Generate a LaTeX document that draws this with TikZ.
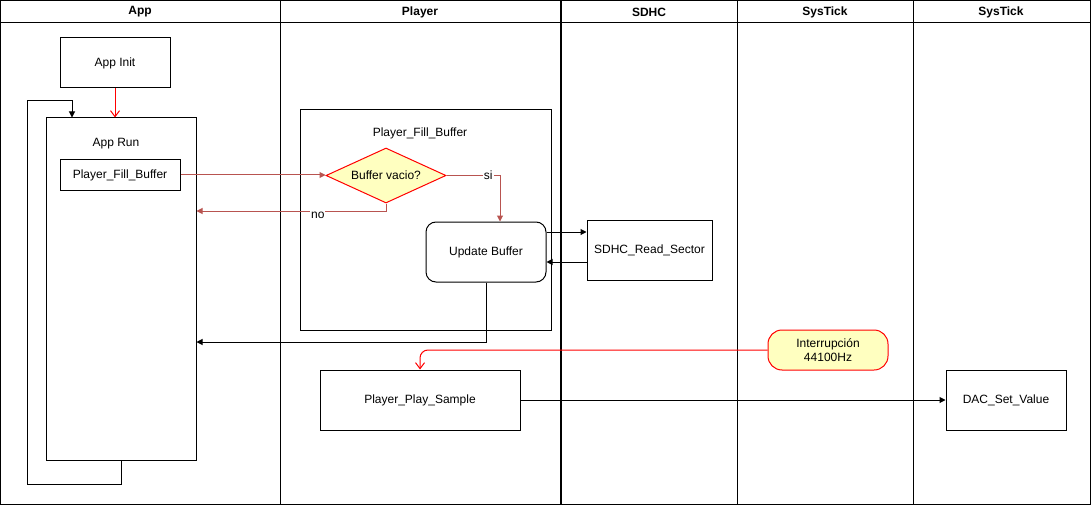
\documentclass[tikz,border=0pt]{standalone}
\usepackage{fontspec}
\setmainfont{Liberation Sans}
\usepackage{xcolor}
\usepackage{tikz}
\usetikzlibrary{positioning,shapes.geometric,arrows.meta}

\definecolor{arrowred}{RGB}{184,84,80}
\definecolor{notefill}{RGB}{255,255,192}

\begin{document}
\begin{tikzpicture}[x=1pt, y=-1pt, line width=1pt,
    font=\fontsize{12}{14}\selectfont,
    box/.style={draw, minimum width=120pt, minimum height=60pt, inner sep=0pt},
    lanehead/.style={font=\fontsize{12}{14}\selectfont\bfseries},
    decision/.style={diamond, draw=red, fill=notefill, aspect=2.2, inner sep=0pt,
        minimum width=120pt, minimum height=55pt},
    note/.style={draw=red, fill=notefill, rounded corners=14pt, align=center,
        minimum width=120pt, minimum height=40pt, inner sep=0pt},
    flow/.style={-{Triangle[length=6pt,width=6pt]}},
    redflow/.style={flow, draw=arrowred},
    hit/.style={-{Straight Barb[length=6pt,width=9pt]}, draw=red}]

        \useasboundingbox (0,0) rectangle (1091,505);

        % carriles
        \draw (0.5,0.5) rectangle (1090,504);
        \draw (0.5,23) -- (1090,23);
        \draw (280,0.5) -- (280,504);
        \draw[line width=2pt] (561,0.5) -- (561,504);
        \draw (737,0.5) -- (737,504);
        \draw (913,0.5) -- (913,504);
        \node[lanehead] (hApp) at (140,12) {App};
        \node[lanehead] (hPlayer) at (420,12) {Player};
        \node[lanehead] (hSDHC) at (649,12) {SDHC};
        \node[lanehead] (hTick1) at (825,12) {SysTick};
        \node[lanehead] (hTick2) at (1001,12) {SysTick};

        % App
        \node[box, minimum width=110pt, minimum height=50pt] (init) at (115,63) {App Init};
        \node[draw, minimum width=150pt, minimum height=342pt] (run) at (121,289) {};
        \node (runlbl) at (116,144) {App Run};
        \node[box, minimum height=30pt] (fill) at (120,175) {Player\_Fill\_Buffer};
        \coordinate (loopc) at (27,101);

        % Player
        \node[draw, minimum width=251pt, minimum height=220pt] (pfb) at (425.5,220) {};
        \node (pfblbl) at (420,133) {Player\_Fill\_Buffer};
        \node[decision] (vacio) at (386,175.5) {Buffer vacio?};
        \node[box, rounded corners=10pt] (upd) at (486,252) {Update Buffer};
        \node[box, minimum width=200pt] (play) at (420,400) {Player\_Play\_Sample};

        % SDHC / SysTick
        \node[box, minimum width=125pt] (read) at (649.5,250) {SDHC\_Read\_Sector};
        \node[note] (irq) at (828,350) {Interrupción\\44100Hz};
        \node[box] (dac) at (1006,400) {DAC\_Set\_Value};

        \draw[hit] (init.south) -- (init.south |- run.north);
        \draw[flow] (run.south) -- ++(0,24) -| (loopc) -| ([xshift=-49pt]run.north);
        \draw[redflow] (fill.east) -- (fill.east -| vacio.west);
        \draw[redflow] (vacio.east) -| node[pos=0.39, fill=white, inner sep=1pt] {si} ([xshift=14pt]upd.north);
        \draw[redflow] (vacio.south) |- node[pos=0.68, fill=white, inner sep=1pt, yshift=-4pt] {no} ([yshift=78pt]run.east);
        \draw[flow] ([yshift=20pt]upd.east) -- ([yshift=20pt]upd.east -| read.west);
        \draw[flow] ([yshift=-12pt]read.west) -- ([yshift=-12pt]read.west -| upd.east);
        \draw[flow] (upd.south) |- ([yshift=-53pt]run.east);
        \draw[hit, rounded corners=8pt] (irq.west) -| (play.north);
        \draw[flow] (play) -- (dac);

\end{tikzpicture}
\end{document}
